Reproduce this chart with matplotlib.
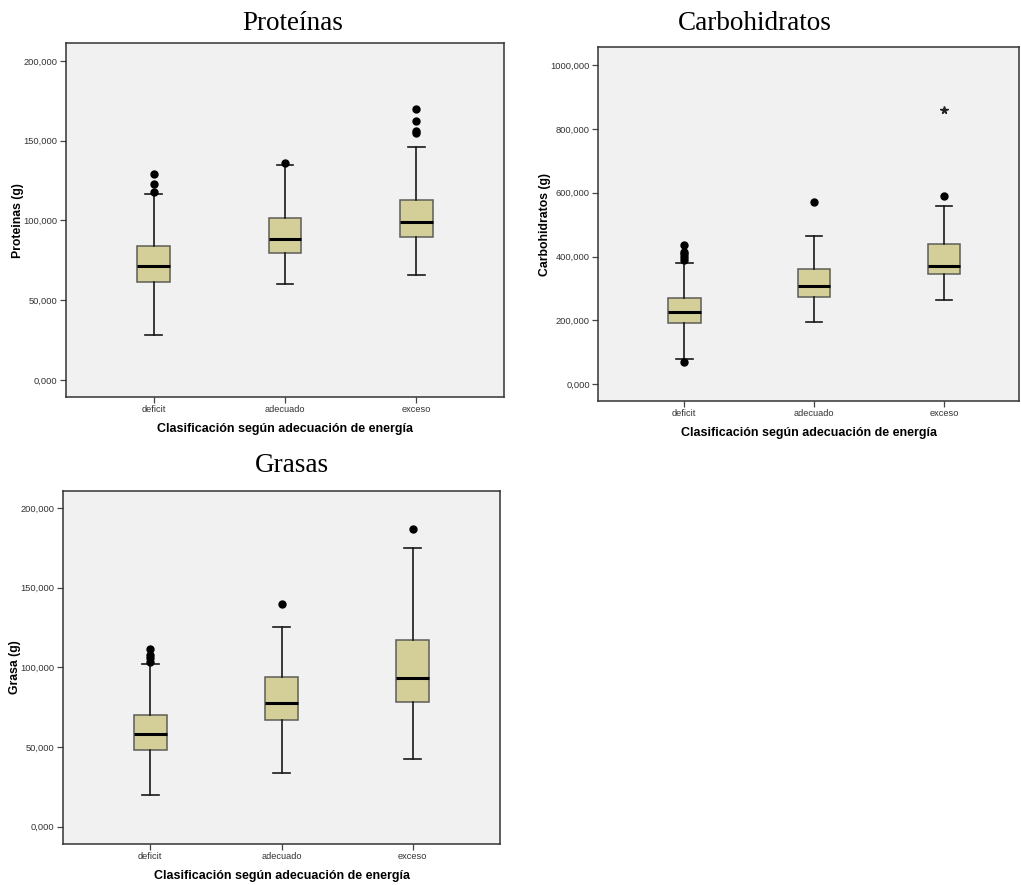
import numpy as np
import matplotlib
matplotlib.use("Agg")
import matplotlib.pyplot as plt
from matplotlib.ticker import FuncFormatter

# categories
grupos = ["deficit", "adecuado", "exceso"]

# Proteinas (g): whislo, q1, med, q3, whishi
prot_stats = [
    [28.0, 61.6, 71.7, 83.8, 116.6],
    [60.0, 79.4, 88.4, 101.8, 135.0],
    [65.6, 89.5, 99.0, 112.7, 146.0],
]
prot_out = [[118.0, 123.0, 129.0], [136.0], [155.0, 156.0, 162.0, 170.0]]
prot_ext = [[], [], []]

# Carbohidratos (g)
carb_stats = [
    [77.5, 192.0, 227.0, 269.0, 381.0],
    [194.0, 274.0, 307.5, 361.0, 465.0],
    [263.6, 344.0, 370.0, 440.0, 558.0],
]
carb_out = [[70.0, 389.0, 399.0, 407.0, 415.0, 437.0], [571.0], [590.0]]
carb_ext = [[], [], [860.0]]

# Grasa (g)
gras_stats = [
    [19.9, 48.1, 58.2, 69.9, 102.3],
    [33.5, 67.0, 77.8, 94.2, 125.5],
    [42.7, 78.1, 93.3, 117.4, 175.1],
]
gras_out = [[103.6, 105.7, 107.8, 111.5], [139.8], [186.7]]
gras_ext = [[], [], []]

W, H = 1021, 885
plt.rcParams["font.family"] = ["Liberation Sans", "DejaVu Sans"]
fig = plt.figure(figsize=(W / 100, H / 100), dpi=100)
fig.patch.set_facecolor("white")

BG = "#f0f1f0"
BOX = "#d4cf98"
EDGE = "#5e5e58"
FRAME = "#333333"


def fmt(v, pos):
    return ("%.3f" % v).replace(".", ",")


def make_axes(l, t, r, b):
    return fig.add_axes([l / W, 1 - b / H, (r - l) / W, (b - t) / H])


def panel(ax, stats, outl, ext, ylab, ylim, yticks, xlim, ylab_x):
    bx = []
    for i in range(len(grupos)):
        s = stats[i]
        bx.append(dict(whislo=s[0], q1=s[1], med=s[2], q3=s[3], whishi=s[4],
                       fliers=outl[i], label=grupos[i]))
    ax.bxp(bx, positions=[1, 2, 3], widths=0.25, capwidths=0.127,
           patch_artist=True, showfliers=True,
           boxprops=dict(facecolor=BOX, edgecolor=EDGE, linewidth=1.1),
           medianprops=dict(color="black", linewidth=2.2),
           whiskerprops=dict(color="#1a1a1a", linewidth=1.2),
           capprops=dict(color="#1a1a1a", linewidth=1.2),
           flierprops=dict(marker="o", markerfacecolor="black",
                           markeredgecolor="black", markersize=5))
    for i in range(len(grupos)):
        if ext[i]:
            ax.plot([i + 1] * len(ext[i]), ext[i], linestyle="none",
                    marker="*", color="#222222", markersize=5.5)
    ax.set_facecolor(BG)
    ax.set_xlim(*xlim)
    ax.set_ylim(*ylim)
    ax.set_yticks(yticks)
    ax.yaxis.set_major_formatter(FuncFormatter(fmt))
    ax.set_xticks([1, 2, 3])
    ax.set_xticklabels(grupos)
    ax.tick_params(axis="both", direction="out", length=4, width=0.9,
                   color="#444444", labelsize=6.7, labelcolor="#333333", pad=2)
    for sp in ax.spines.values():
        sp.set_color(FRAME)
        sp.set_linewidth(1.1)
    ax.set_ylabel(ylab, fontsize=8.8, fontweight="bold")
    ax.yaxis.set_label_coords(ylab_x, 0.5)
    ax.set_xlabel("Clasificación según adecuación de energía", fontsize=9,
                  fontweight="bold")
    ax.xaxis.set_label_coords(0.5, -0.09)
    ax.xaxis.label.set_va("center")
    ax.yaxis.label.set_va("center")


ax1 = make_axes(66, 43.3, 504, 397)
panel(ax1, prot_stats, prot_out, prot_ext, "Proteinas (g)",
      (-10.7, 211.0), [0, 50, 100, 150, 200], (0.332, 3.668), -0.11)

ax2 = make_axes(598.3, 47.3, 1019, 401)
panel(ax2, carb_stats, carb_out, carb_ext, "Carbohidratos (g)",
      (-53.0, 1056.0), [0, 200, 400, 600, 800, 1000], (0.338, 3.577), -0.127)

ax3 = make_axes(63, 491, 500, 844)
panel(ax3, gras_stats, gras_out, gras_ext, "Grasa (g)",
      (-10.8, 210.7), [0, 50, 100, 150, 200], (0.335, 3.665), -0.11)

tfont = dict(family="Liberation Serif", fontsize=19.5, ha="center", va="center")
fig.text(293 / W, 1 - 23 / H, "Proteínas", **tfont)
fig.text(755 / W, 1 - 23 / H, "Carbohidratos", **tfont)
fig.text(292 / W, 1 - 465 / H, "Grasas", **tfont)

fig.savefig("out.png", dpi=100)
